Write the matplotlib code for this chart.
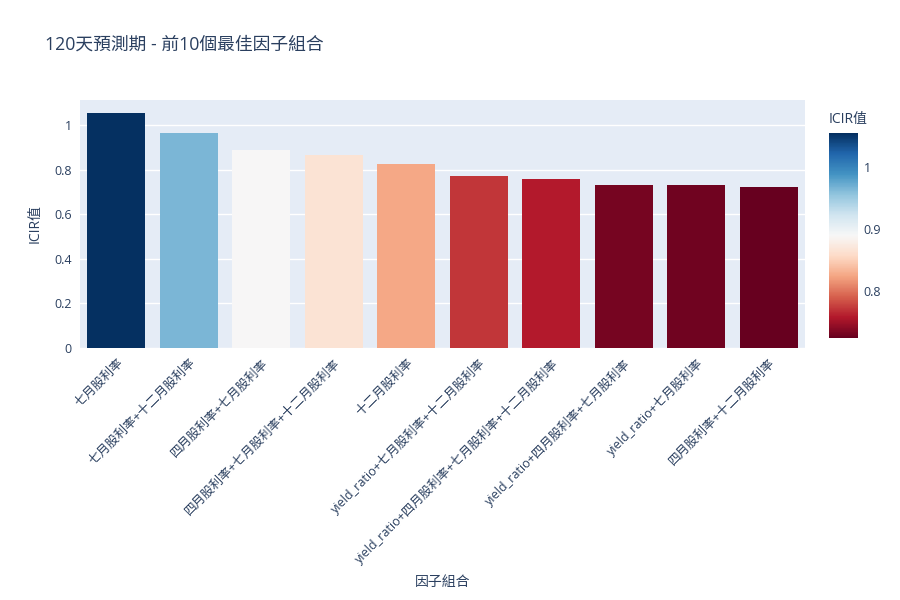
import numpy as np
import matplotlib.pyplot as plt
import matplotlib as mpl

plt.rcParams['font.family'] = ['Open Sans', 'Noto Sans CJK TC', 'DejaVu Sans']

# factor combinations and their ICIR values
factors = [
    '七月股利率',
    '七月股利率+十二月股利率',
    '四月股利率+七月股利率',
    '四月股利率+七月股利率+十二月股利率',
    '十二月股利率',
    'yield_ratio+七月股利率+十二月股利率',
    'yield_ratio+四月股利率+七月股利率+十二月股利率',
    'yield_ratio+四月股利率+七月股利率',
    'yield_ratio+七月股利率',
    '四月股利率+十二月股利率',
]
icir = [1.054, 0.964, 0.888, 0.865, 0.825, 0.771, 0.758, 0.731, 0.729, 0.724]
yticks = [0, 0.2, 0.4, 0.6, 0.8, 1]
cbar_ticks = [0.8, 0.9, 1]

txt = '#2a3f5f'
cmap = plt.get_cmap('RdBu')
norm = mpl.colors.Normalize(vmin=min(icir), vmax=max(icir))

fig = plt.figure(figsize=(9, 6), dpi=100)
ax = fig.add_axes([80/900, 1 - 348/600, 725/900, 248/600])
ax.set_facecolor('#E5ECF6')
x = np.arange(len(factors))
ax.bar(x, icir, width=0.8, color=cmap(norm(np.array(icir))), zorder=3)

ax.set_xlim(-0.5, len(factors) - 0.5)
ax.set_ylim(0, 1.112)
ax.set_yticks(yticks)
ax.set_yticklabels(['0', '0.2', '0.4', '0.6', '0.8', '1'])
ax.grid(axis='y', color='white', linewidth=1, zorder=0)
ax.set_axisbelow(True)
for s in ax.spines.values():
    s.set_visible(False)
ax.tick_params(length=0, colors=txt, labelsize=9, pad=6)
ax.set_xticks(x)
ax.set_xticklabels(factors, rotation=45, ha='right', rotation_mode='anchor')

ax.set_ylabel('ICIR值', color=txt, fontsize=10, va='center')
ax.set_xlabel('因子組合', color=txt, fontsize=10, va='center')
ax.xaxis.set_label_coords(0.5, -(582 - 348) / 248)
ax.yaxis.set_label_coords(-(80 - 35) / 725, 0.5)

fig.text(45/900, 1 - 45/600, '120天預測期 - 前10個最佳因子組合', color=txt,
         fontsize=12.8, va='center', ha='left')

# colorbar
cax = fig.add_axes([829/900, 1 - 338/600, 29/900, 205/600])
cb = fig.colorbar(mpl.cm.ScalarMappable(norm=norm, cmap=cmap), cax=cax)
cb.outline.set_visible(False)
cb.set_ticks(cbar_ticks)
cb.set_ticklabels(['0.8', '0.9', '1'])
cax.tick_params(length=0, colors=txt, labelsize=9, pad=4)
fig.text(829/900, 1 - 119/600, 'ICIR值', color=txt, fontsize=10, va='center', ha='left')

fig.savefig('out.png', dpi=100, facecolor='white')
